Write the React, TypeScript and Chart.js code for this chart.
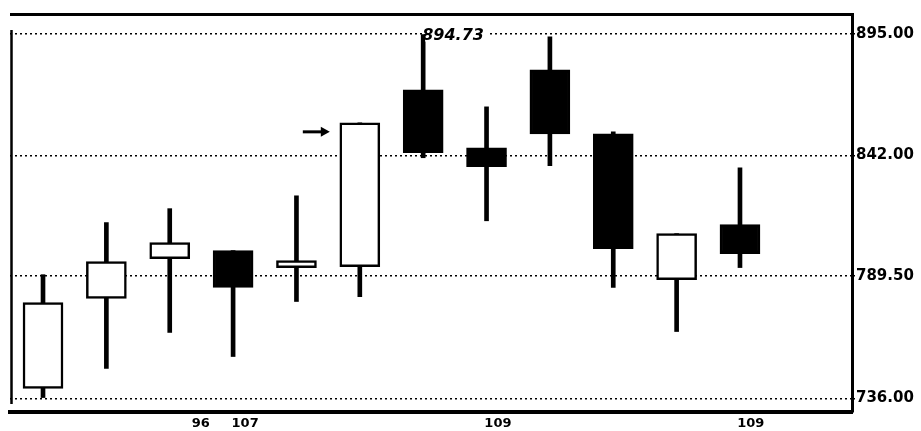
import React, { useEffect, useRef } from "react";
import { Chart, registerables } from "chart.js";

Chart.register(...registerables);

// ---- data ----
const candleIndex = [0, 1, 2, 3, 4, 5, 6, 7, 8, 9, 10, 11];
const openPrices = [740.4, 779.6, 797.0, 800.5, 793.1, 793.5, 870.6, 845.3, 879.3, 851.4, 787.8, 811.8];
const highPrices = [790.0, 812.7, 818.8, 800.5, 824.4, 856.2, 894.73, 863.2, 893.7, 852.3, 807.9, 836.6];
const lowPrices = [736.4, 749.1, 764.8, 754.3, 778.3, 780.4, 841.0, 813.5, 837.5, 784.4, 765.2, 793.1];
const closePrices = [777.8, 795.7, 804.0, 784.4, 796.1, 856.2, 843.2, 837.1, 851.4, 801.3, 807.9, 799.2];

const yTickValues = [736, 789.5, 842, 895];
const xTickPositions = [2.49, 3.19, 7.18, 11.17];
const xTickLabels = ["96", "107", "109", "109"];

const peakIndex = 6;
const peakLabel = "894.73";
const arrowIndex = 5;
const arrowLevel = 852.3;

const decorPlugin = {
  id: "decor",
  afterDatasetsDraw(chart: any) {
    const { ctx, chartArea: a, scales } = chart;
    const xs = scales.x;
    const ys = scales.y;
    ctx.save();
    ctx.strokeStyle = "#000";
    ctx.fillStyle = "#000";
    // top frame line
    ctx.lineWidth = 3;
    ctx.beginPath();
    ctx.moveTo(a.left, a.top + 0.5);
    ctx.lineTo(a.right, a.top + 0.5);
    ctx.stroke();
    // left frame line
    ctx.lineWidth = 2.5;
    ctx.beginPath();
    ctx.moveTo(a.left + 1.5, a.top + 16);
    ctx.lineTo(a.left + 1.5, a.bottom - 8);
    ctx.stroke();
    // arrow
    const ax = xs.getPixelForValue(arrowIndex);
    const ay = ys.getPixelForValue(arrowLevel);
    ctx.lineWidth = 3;
    ctx.beginPath();
    ctx.moveTo(ax - 57, ay);
    ctx.lineTo(ax - 37, ay);
    ctx.stroke();
    ctx.beginPath();
    ctx.moveTo(ax - 30, ay);
    ctx.lineTo(ax - 39, ay - 5);
    ctx.lineTo(ax - 39, ay + 5);
    ctx.closePath();
    ctx.fill();
    // peak label
    const px = xs.getPixelForValue(peakIndex);
    const py = ys.getPixelForValue(highPrices[peakIndex]);
    ctx.font = "italic bold 16px 'DejaVu Sans'";
    const w = ctx.measureText(peakLabel).width;
    ctx.fillStyle = "#fff";
    ctx.fillRect(px + 2, py - 7, w + 2, 14);
    ctx.fillStyle = "#000";
    ctx.textBaseline = "middle";
    ctx.textAlign = "left";
    ctx.fillText(peakLabel, px - 1, py + 1);
    ctx.restore();
  },
};

export default function App() {
  const canvasRef = useRef<HTMLCanvasElement | null>(null);

  useEffect(() => {
    if (!canvasRef.current) return;
    const bodies = candleIndex.map((i) => ({
      x: i,
      y: [Math.min(openPrices[i], closePrices[i]), Math.max(openPrices[i], closePrices[i])],
    }));
    const wicks = candleIndex.map((i) => ({ x: i, y: [lowPrices[i], highPrices[i]] }));
    const bodyColors = candleIndex.map((i) => (closePrices[i] >= openPrices[i] ? "#ffffff" : "#000000"));

    const chart = new Chart(canvasRef.current, {
      type: "bar",
      data: {
        datasets: [
          {
            label: "body",
            data: bodies as any,
            backgroundColor: bodyColors,
            borderColor: "#000",
            borderWidth: 2.5,
            borderSkipped: false,
            barThickness: 40,
            grouped: false,
            order: 0,
          } as any,
          {
            label: "wick",
            data: wicks as any,
            backgroundColor: "#000",
            borderWidth: 0,
            barThickness: 4,
            grouped: false,
            order: 1,
          } as any,
        ],
      },
      options: {
        animation: false,
        responsive: false,
        layout: { padding: { left: 10, top: 14, right: 0, bottom: 0 } },
        plugins: { legend: { display: false }, tooltip: { enabled: false } },
        scales: {
          x: {
            type: "linear",
            min: -0.521,
            max: 12.768,
            offset: false,
            grid: { display: false, drawTicks: false, tickLength: 0 },
            border: { display: true, color: "#000", width: 4 },
            afterBuildTicks: (scale: any) => {
              scale.ticks = xTickPositions.map((v) => ({ value: v }));
            },
            afterFit: (scale: any) => {
              scale.height = 19;
            },
            ticks: {
              autoSkip: false,
              maxRotation: 0,
              padding: 4,
              color: "#000",
              font: { family: "DejaVu Sans", size: 13, weight: "bold" },
              callback: (_v: any, idx: number) => xTickLabels[idx],
            },
          },
          y: {
            type: "linear",
            position: "right",
            min: 730.1,
            max: 903.7,
            grid: {
              color: "#000",
              lineWidth: 1.5,
              drawTicks: true,
              tickLength: 3,
              tickColor: "#000",
            },
            border: { display: true, color: "#000", width: 3, dash: [2, 3] },
            afterBuildTicks: (scale: any) => {
              scale.ticks = yTickValues.map((v) => ({ value: v }));
            },
            afterFit: (scale: any) => {
              scale.width = 69;
            },
            ticks: {
              padding: 1,
              color: "#000",
              font: { family: "DejaVu Sans", size: 15, weight: "bold" },
              callback: (v: any) => Number(v).toFixed(2),
            },
          },
        },
      },
      plugins: [decorPlugin],
    });
    return () => chart.destroy();
  }, []);

  return (
    <div style={{ position: "fixed", left: 0, top: 0, width: 921, height: 431, background: "#fff" }}>
      <canvas ref={canvasRef} width={921} height={431} style={{ display: "block" }} />
    </div>
  );
}
